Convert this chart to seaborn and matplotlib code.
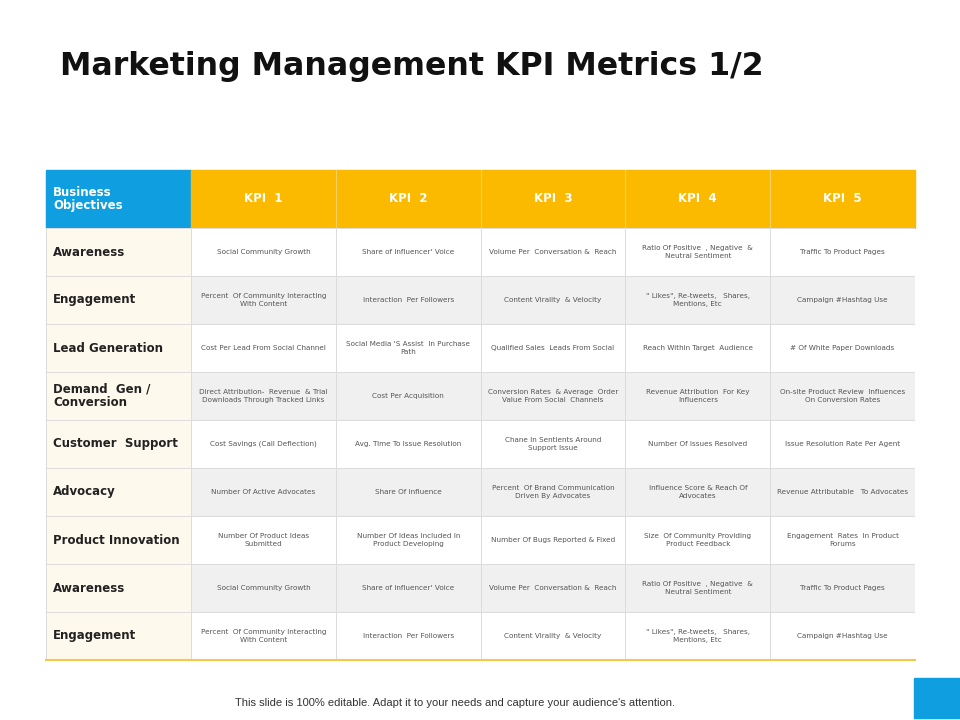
import numpy as np
import matplotlib
matplotlib.use("Agg")
import matplotlib.pyplot as plt
from matplotlib.colors import ListedColormap
from matplotlib.patches import Rectangle
import seaborn as sns

title = "Marketing Management KPI Metrics 1/2"
header_first = "Business\nObjectives"
kpi_headers = ["KPI  1", "KPI  2", "KPI  3", "KPI  4", "KPI  5"]
objectives = ["Awareness", "Engagement", "Lead Generation", "Demand  Gen /\nConversion",
              "Customer  Support", "Advocacy", "Product Innovation", "Awareness", "Engagement"]
kpi1 = ["Social Community Growth", "Percent  Of Community Interacting\nWith Content",
        "Cost Per Lead From Social Channel", "Direct Attribution-  Revenue  & Trial\nDownloads Through Tracked Links",
        "Cost Savings (Call Deflection)", "Number Of Active Advocates",
        "Number Of Product Ideas\nSubmitted", "Social Community Growth",
        "Percent  Of Community Interacting\nWith Content"]
kpi2 = ["Share of Influencer' Voice", "Interaction  Per Followers",
        "Social Media 'S Assist  In Purchase\nPath", "Cost Per Acquisition",
        "Avg. Time To Issue Resolution", "Share Of Influence",
        "Number Of Ideas Included In\nProduct Developing", "Share of Influencer' Voice",
        "Interaction  Per Followers"]
kpi3 = ["Volume Per  Conversation &  Reach", "Content Virality  & Velocity",
        "Qualified Sales  Leads From Social", "Conversion Rates  & Average  Order\nValue From Social  Channels",
        "Chane In Sentients Around\nSupport Issue", "Percent  Of Brand Communication\nDriven By Advocates",
        "Number Of Bugs Reported & Fixed", "Volume Per  Conversation &  Reach",
        "Content Virality  & Velocity"]
kpi4 = ["Ratio Of Positive  , Negative  &\nNeutral Sentiment", "\" Likes\", Re-tweets,   Shares,\nMentions, Etc",
        "Reach Within Target  Audience", "Revenue Attribution  For Key\nInfluencers",
        "Number Of Issues Resolved", "Influence Score & Reach Of\nAdvocates",
        "Size  Of Community Providing\nProduct Feedback", "Ratio Of Positive  , Negative  &\nNeutral Sentiment",
        "\" Likes\", Re-tweets,   Shares,\nMentions, Etc"]
kpi5 = ["Traffic To Product Pages", "Campaign #Hashtag Use", "# Of White Paper Downloads",
        "On-site Product Review  Influences\nOn Conversion Rates", "Issue Resolution Rate Per Agent",
        "Revenue Attributable   To Advocates", "Engagement  Rates  In Product\nForums",
        "Traffic To Product Pages", "Campaign #Hashtag Use"]
footer = "This slide is 100% editable. Adapt it to your needs and capture your audience's attention."

W, H = 960, 720
fig = plt.figure(figsize=(9.6, 7.2), dpi=100)
bg = fig.add_axes([0, 0, 1, 1])
bg.set_xlim(0, W); bg.set_ylim(H, 0); bg.axis("off")

x0, x1 = 46, 915
cols = np.linspace(191, 915, 6)
hy0, hy1 = 170, 228
by1 = 660
nrows = len(objectives)

texts = np.array([kpi1, kpi2, kpi3, kpi4, kpi5]).T
vals = np.zeros((nrows, 6))
for i in range(nrows):
    vals[i, 1:] = 1 if i % 2 == 0 else 2
annot = np.empty((nrows, 6), dtype=object)
annot[:, 0] = ""
annot[:, 1:] = texts
ax = fig.add_axes([x0 / W, 1 - by1 / H, (x1 - x0) / W, (by1 - hy1) / H])
cmap = ListedColormap(["#fdf9ed", "#ffffff", "#f0f0f0"])
widths = np.array([191 - x0] + [cols[1] - cols[0]] * 5)
sns.heatmap(vals, ax=ax, cmap=cmap, vmin=-0.5, vmax=2.5, cbar=False,
            annot=annot, fmt="", linewidths=0.6, linecolor="#d9d9d9",
            annot_kws={"fontsize": 5.2, "color": "#555555", "linespacing": 1.5},
            xticklabels=False, yticklabels=False)
edges = np.concatenate([[0], np.cumsum(widths)]) / widths.sum() * 6
ax.collections[0].remove()
ax.pcolormesh(edges, np.arange(nrows + 1), vals, cmap=cmap, vmin=-0.5, vmax=2.5,
              edgecolors="#dcdcdc", linewidth=0.6, zorder=0)
centers = (edges[:-1] + edges[1:]) / 2
for t in ax.texts:
    x, y = t.get_position()
    t.set_position((centers[int(x)], y))
ax.set_xlim(0, 6); ax.set_ylim(nrows, 0)
ax.axis("off")

bg.add_patch(Rectangle((x0, hy0), 191 - x0, hy1 - hy0, color="#0f9ee0", zorder=1))
bg.add_patch(Rectangle((191, hy0), x1 - 191, hy1 - hy0, color="#fbb900", zorder=1))
for c in cols[1:-1]:
    bg.plot([c, c], [hy0, hy1], color="#f5cf60", lw=0.8, zorder=2)
bg.text(53, 199, header_first, color="white", fontsize=8.5, fontweight="bold",
        va="center", ha="left", linespacing=1.05, zorder=3)
for i, h in enumerate(kpi_headers):
    bg.text((cols[i] + cols[i + 1]) / 2, 199, h, color="white", fontsize=8.5,
            fontweight="bold", ha="center", va="center", zorder=3)

rh = (by1 - hy1) / nrows
for i, o in enumerate(objectives):
    ax.text(53, hy1 + rh * (i + 0.5), o, fontsize=8.5, fontweight="bold", color="#222222",
            ha="left", va="center", linespacing=1.05, zorder=5, transform=bg.transData)
ax.plot([x0, x1], [by1, by1], color="#f5c84a", lw=1.5, zorder=5, transform=bg.transData,
        clip_on=False)

bg.text(60, 66, title, fontsize=22.8, fontweight="bold", color="#111111", ha="left", va="center")
bg.text(455, 703, footer, fontsize=8, color="#333333", ha="center", va="center",
        fontfamily="Liberation Sans")
bg.add_patch(Rectangle((914, 678), 46, 40, color="#0f9ee0"))

fig.savefig("out.png", dpi=100)
